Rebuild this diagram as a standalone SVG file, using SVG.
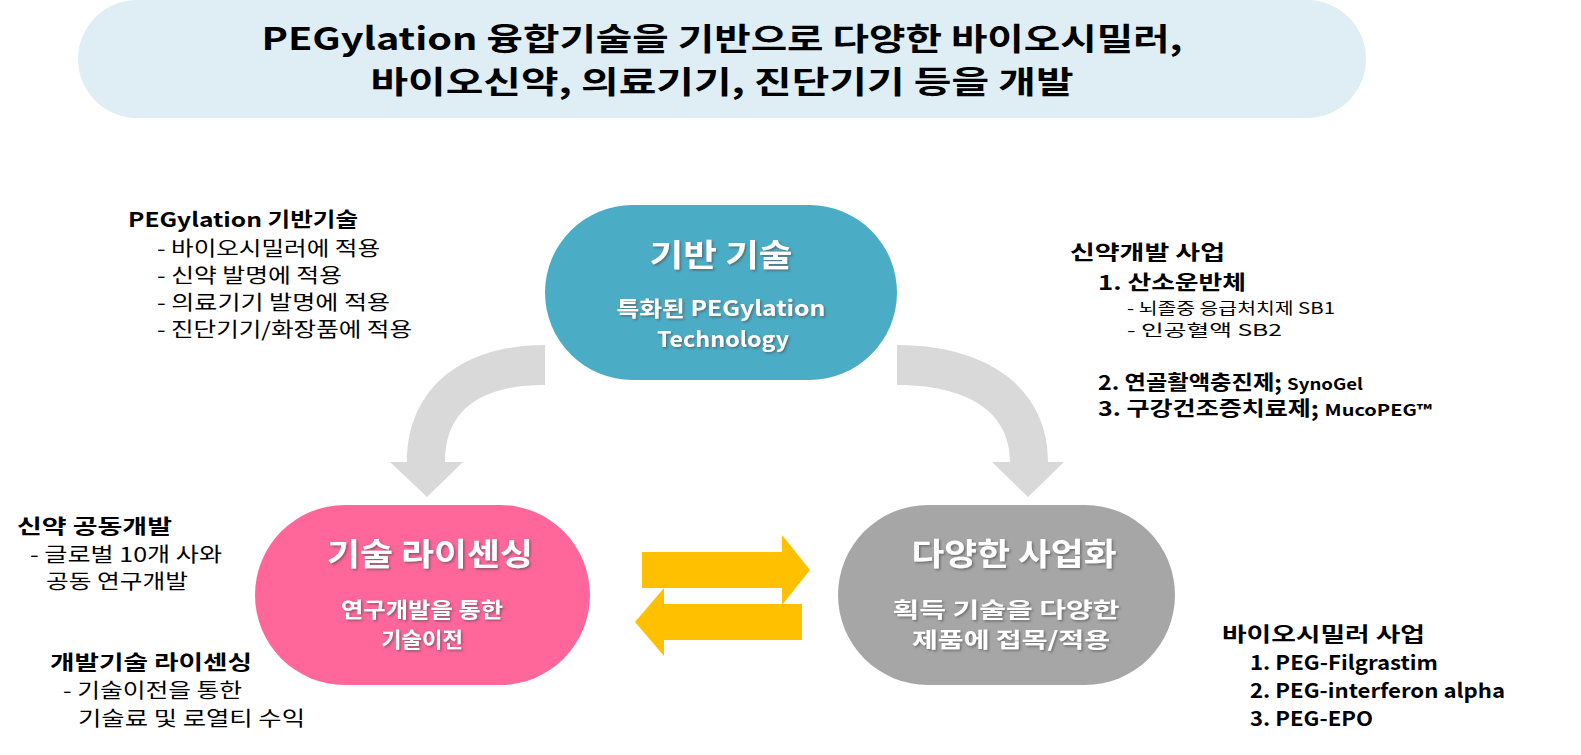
<svg xmlns="http://www.w3.org/2000/svg" width="1581" height="755" viewBox="0 0 1581 755">
<style>
text{font-family:"Noto Sans CJK KR","Noto Sans",sans-serif;fill:#000}
.b{font-weight:bold}
.t{font-size:20px}
.s{font-size:16px}
.w{fill:#fff;font-weight:bold;text-anchor:middle}
.h{font-size:31px}
.m{font-size:21px}
</style>
<defs><filter id="sh"><feDropShadow dx="1.5" dy="1.5" stdDeviation="0.8" flood-color="#555" flood-opacity="0.7"/></filter></defs>
<rect width="1581" height="755" fill="#fff"/>
<g id="title">
<rect x="78" y="0" width="1288" height="118" rx="59" fill="#DEEEF4"/>
<text class="b" x="722" y="50" font-size="31" text-anchor="middle" textLength="921" lengthAdjust="spacingAndGlyphs">PEGylation 융합기술을 기반으로 다양한 바이오시밀러,</text>
<text class="b" x="722" y="93" font-size="31" text-anchor="middle" textLength="703" lengthAdjust="spacingAndGlyphs">바이오신약, 의료기기, 진단기기 등을 개발</text>
</g>
<g id="connectors">
<path d="M545 345 L545 385 C480 385 445 410 445 462 L463 462 L427 497 L390 462 L407 462 C407 390 460 345 545 345 Z" fill="#D9D9D9"/>
<path d="M897 345 L897 385 C965 385 1010 410 1010 462 L992 462 L1028 497 L1064 462 L1048 462 C1048 390 990 345 897 345 Z" fill="#D9D9D9"/>
<path d="M642 552 L782 552 L782 535 L810 570 L782 605 L782 588 L642 588 Z" fill="#FFC000"/>
<path d="M802 604 L664 604 L664 588 L635 622 L664 656 L664 640 L802 640 Z" fill="#FFC000"/>
</g>
<g id="node-base">
<rect x="545" y="205" width="352" height="175" rx="87.5" fill="#4BACC6"/>
<g filter="url(#sh)">
<text class="w h" x="721" y="266" textLength="143" lengthAdjust="spacingAndGlyphs">기반 기술</text>
<text class="w m" x="721" y="316" textLength="209" lengthAdjust="spacingAndGlyphs">특화된 PEGylation</text>
<text class="w m" x="723" y="347" textLength="132" lengthAdjust="spacingAndGlyphs">Technology</text>
</g>
</g>
<g id="node-license">
<rect x="255" y="505" width="335" height="180" rx="90" fill="#FF6699"/>
<g filter="url(#sh)">
<text class="w h" x="430" y="565" textLength="206" lengthAdjust="spacingAndGlyphs">기술 라이센싱</text>
<text class="w m" x="422" y="617" textLength="162" lengthAdjust="spacingAndGlyphs">연구개발을 통한</text>
<text class="w m" x="422" y="647" textLength="82" lengthAdjust="spacingAndGlyphs">기술이전</text>
</g>
</g>
<g id="node-biz">
<rect x="838" y="505" width="337" height="180" rx="90" fill="#A6A6A6"/>
<g filter="url(#sh)">
<text class="w h" x="1014" y="565" textLength="205" lengthAdjust="spacingAndGlyphs">다양한 사업화</text>
<text class="w m" x="1006" y="617" textLength="227" lengthAdjust="spacingAndGlyphs">획득 기술을 다양한</text>
<text class="w m" x="1011" y="647" textLength="198" lengthAdjust="spacingAndGlyphs">제품에 접목/적용</text>
</g>
</g>
<g id="note-tl">
<text class="t b" x="128" y="227" textLength="230" lengthAdjust="spacingAndGlyphs">PEGylation 기반기술</text>
<text class="t" x="157" y="256" textLength="223" lengthAdjust="spacingAndGlyphs">- 바이오시밀러에 적용</text>
<text class="t" x="157" y="283" textLength="185" lengthAdjust="spacingAndGlyphs">- 신약 발명에 적용</text>
<text class="t" x="157" y="310" textLength="233" lengthAdjust="spacingAndGlyphs">- 의료기기 발명에 적용</text>
<text class="t" x="157" y="337" textLength="255" lengthAdjust="spacingAndGlyphs">- 진단기기/화장품에 적용</text>
</g>
<g id="note-tr">
<text class="t b" x="1070" y="260" textLength="155" lengthAdjust="spacingAndGlyphs">신약개발 사업</text>
<text class="t b" x="1098" y="290" textLength="148" lengthAdjust="spacingAndGlyphs">1.   산소운반체</text>
<text class="s" x="1127" y="314" textLength="208" lengthAdjust="spacingAndGlyphs">- 뇌졸중 응급처치제 SB1</text>
<text class="s" x="1127" y="336" textLength="155" lengthAdjust="spacingAndGlyphs">- 인공혈액 SB2</text>
<text class="t b" x="1098" y="390" textLength="265" lengthAdjust="spacingAndGlyphs">2. 연골활액충진제; <tspan font-size="16">SynoGel</tspan></text>
<text class="t b" x="1098" y="416" textLength="334" lengthAdjust="spacingAndGlyphs">3. 구강건조증치료제; <tspan font-size="16">MucoPEG™</tspan></text>
</g>
<g id="note-ml">
<text class="t b" x="17" y="534" textLength="155" lengthAdjust="spacingAndGlyphs">신약 공동개발</text>
<text class="t" x="30" y="562" textLength="192" lengthAdjust="spacingAndGlyphs">- 글로벌 10개 사와</text>
<text class="t" x="46" y="589" textLength="142" lengthAdjust="spacingAndGlyphs">공동 연구개발</text>
</g>
<g id="note-bl">
<text class="t b" x="50" y="670" textLength="202" lengthAdjust="spacingAndGlyphs">개발기술 라이센싱</text>
<text class="t" x="63" y="698" textLength="179" lengthAdjust="spacingAndGlyphs">- 기술이전을 통한</text>
<text class="t" x="78" y="726" textLength="227" lengthAdjust="spacingAndGlyphs">기술료 및 로열티 수익</text>
</g>
<g id="note-br">
<text class="t b" x="1222" y="642" textLength="203" lengthAdjust="spacingAndGlyphs">바이오시밀러 사업</text>
<text class="t b" x="1250" y="670" textLength="188" lengthAdjust="spacingAndGlyphs">1. PEG-Filgrastim</text>
<text class="t b" x="1250" y="698" textLength="255" lengthAdjust="spacingAndGlyphs">2. PEG-interferon alpha</text>
<text class="t b" x="1250" y="726" textLength="123" lengthAdjust="spacingAndGlyphs">3. PEG-EPO</text>
</g>
</svg>
